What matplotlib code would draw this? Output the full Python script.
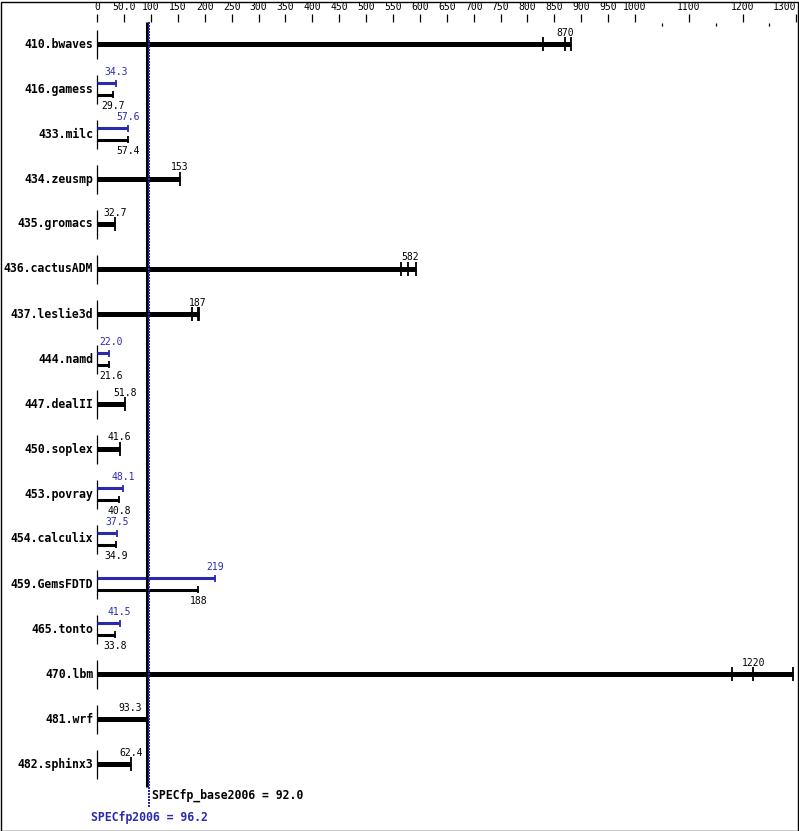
import matplotlib.pyplot as plt
from matplotlib.patches import Rectangle

# benchmark rows, top to bottom
benchmarks = ["410.bwaves", "416.gamess", "433.milc", "434.zeusmp", "435.gromacs",
              "436.cactusADM", "437.leslie3d", "444.namd", "447.dealII", "450.soplex",
              "453.povray", "454.calculix", "459.GemsFDTD", "465.tonto", "470.lbm",
              "481.wrf", "482.sphinx3"]
base_ratio = [870, 29.7, 57.4, 153, 32.7, 582, 187, 21.6, 51.8, 41.6,
              40.8, 34.9, 188, 33.8, 1220, 93.3, 62.4]
base_label = ["870", "29.7", "57.4", "153", "32.7", "582", "187", "21.6", "51.8", "41.6",
              "40.8", "34.9", "188", "33.8", "1220", "93.3", "62.4"]
peak_ratio = [None, 34.3, 57.6, None, None, None, None, 22.0, None, None,
              48.1, 37.5, 219, 41.5, None, None, None]
peak_label = [None, "34.3", "57.6", None, None, None, None, "22.0", None, None,
              "48.1", "37.5", "219", "41.5", None, None, None]
# individual runs where they are visible as separate ticks
run_ticks = {
    "410.bwaves": [828, 870, 881],
    "436.cactusADM": [565, 577, 592],
    "437.leslie3d": [176, 187, 189],
    "470.lbm": [1181, 1220, 1293],
}
base_overall = 92.0
peak_overall = 96.2

major_ticks = [0, 50, 100, 150, 200, 250, 300, 350, 400, 450, 500, 550, 600, 650,
               700, 750, 800, 850, 900, 950, 1000, 1100, 1200, 1300]
major_labels = ["0", "50.0"] + [str(v) for v in major_ticks[2:]]
minor_ticks = [1050, 1150, 1250]

BLUE = "#2a2ab0"
FONT = "DejaVu Sans Mono"

# layout in pixels
W, H = 799, 831
ROW0, ROW_H = 44, 45
X0_PX, PX_PER_UNIT = 97.3, 0.5377


def dx(p):
    return p / PX_PER_UNIT


def dy(p):
    return p / ROW_H


def py(p):
    return (p - ROW0) / ROW_H


fig = plt.figure(figsize=(W / 100, H / 100), dpi=100)
ax = fig.add_axes([0, 0, 1, 1])
ax.set_xlim(-dx(X0_PX), dx(W - X0_PX))
ax.set_ylim(py(H), py(0))
ax.axis("off")


def label_x(v):
    x = max(v, dx(14))
    if abs(v - base_overall) < 15:
        x = v - dx(17)
    return x


# top scale
for v, lab in zip(major_ticks, major_labels):
    ax.plot([v, v], [py(14), py(22)], color="k", lw=0.9, solid_capstyle="butt")
    ax.text(v, py(7), lab, ha="right" if v == 1300 else "center", va="center",
            fontsize=7, family=FONT)
for v in minor_ticks:
    ax.plot([v, v], [py(23), py(26)], color="k", lw=0.9, solid_capstyle="butt")

for i, name in enumerate(benchmarks):
    ax.text(-dx(4), i, name, ha="right", va="center", fontsize=8.3,
            fontweight="bold", family=FONT)
    ax.plot([0, 0], [i - dy(14), i + dy(15)], color="k", lw=0.9, solid_capstyle="butt")
    if peak_ratio[i] is None:
        runs = run_ticks.get(name, [base_ratio[i]])
        ax.plot([0, max(runs)], [i, i], color="k", lw=3.6, solid_capstyle="butt")
        for r in runs:
            ax.plot([r, r], [i - dy(7), i + dy(7)], color="k", lw=1.3,
                    solid_capstyle="butt")
        ax.text(label_x(base_ratio[i]), i - dy(11.5), base_label[i], ha="center",
                va="center", fontsize=7, family=FONT)
    else:
        yp, yb = i - dy(5.7), i + dy(5.7)
        ax.plot([0, peak_ratio[i]], [yp, yp], color=BLUE, lw=2.2, solid_capstyle="butt")
        ax.plot([peak_ratio[i]] * 2, [yp - dy(3.5), yp + dy(3.5)], color=BLUE, lw=1.3,
                solid_capstyle="butt")
        ax.plot([0, base_ratio[i]], [yb, yb], color="k", lw=2.2, solid_capstyle="butt")
        ax.plot([base_ratio[i]] * 2, [yb - dy(3.5), yb + dy(3.5)], color="k", lw=1.3,
                solid_capstyle="butt")
        ax.text(label_x(peak_ratio[i]), i - dy(16.7), peak_label[i], ha="center",
                va="center", fontsize=7, family=FONT, color=BLUE)
        ax.text(label_x(base_ratio[i]), i + dy(17), base_label[i], ha="center",
                va="center", fontsize=7, family=FONT)

# overall score lines
ax.plot([base_overall] * 2, [py(22), py(787)], color="k", lw=2.2,
        solid_capstyle="butt", zorder=3)
ax.plot([peak_overall] * 2, [py(22), py(808)], color=BLUE, lw=1.44,
        linestyle=(0, (1, 0.5)), zorder=4)
ax.text(base_overall + dx(5), py(795), f"SPECfp_base2006 = {base_overall:.1f}",
        ha="left", va="center", fontsize=8.3, fontweight="bold", family=FONT)
ax.text(peak_overall, py(817), f"SPECfp2006 = {peak_overall:.1f}",
        ha="center", va="center", fontsize=8.3, fontweight="bold", family=FONT,
        color=BLUE)

fig.patches.append(Rectangle((0.5 / W, 0.5 / H), (W - 2) / W, (H - 2) / H,
                             transform=fig.transFigure, fill=False,
                             edgecolor="k", lw=1.0))

plt.savefig("out.png", dpi=100)
